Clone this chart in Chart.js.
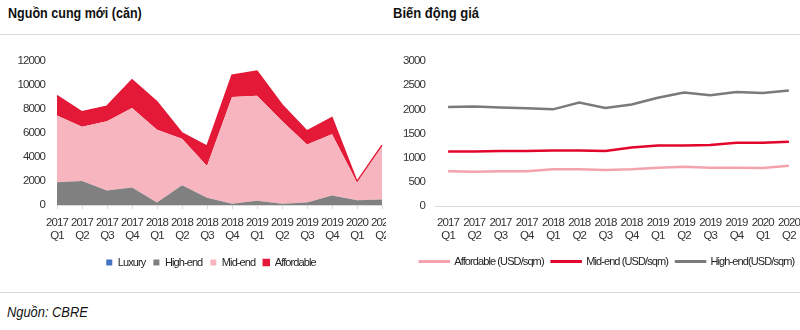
<!DOCTYPE html>
<html><head><meta charset="utf-8">
<script src="https://cdn.jsdelivr.net/npm/chart.js@4/dist/chart.umd.min.js"></script>
<style>
body{margin:0;width:800px;height:330px;overflow:hidden;background:#fff;position:relative;font-family:"Liberation Sans",Arial,sans-serif;color:#111;}
.title{position:absolute;top:4px;font-weight:bold;font-size:15.5px;transform-origin:0 0;white-space:nowrap;}
.hr{position:absolute;left:0;width:800px;height:1px;background:#d9d9d9;}
#leftWrap{position:absolute;left:0;top:36px;width:386px;height:254px;overflow:hidden;}
#rightWrap{position:absolute;left:390px;top:36px;width:410px;height:254px;overflow:hidden;}
.source{position:absolute;left:7px;top:303px;font-style:italic;font-size:15.5px;transform:scaleX(0.83);transform-origin:0 0;white-space:nowrap;}
</style></head>
<body>
<div class="title" style="left:8px;transform:scaleX(0.81)">Nguồn cung mới (căn)</div>
<div class="title" style="left:393px;transform:scaleX(0.84)">Biến động giá</div>
<div class="hr" style="top:34px"></div>
<div id="leftWrap"><canvas id="left" width="400" height="254"></canvas></div>
<div id="rightWrap"><canvas id="right" width="460" height="254"></canvas></div>
<div class="hr" style="top:292px"></div>
<div class="source">Nguồn: CBRE</div>
<script>
const quarters = ['2017 Q1','2017 Q2','2017 Q3','2017 Q4','2018 Q1','2018 Q2','2018 Q3','2018 Q4','2019 Q1','2019 Q2','2019 Q3','2019 Q4','2020 Q1','2020 Q2'];
const supplyLuxury = [0,0,0,0,0,0,0,0,0,0,0,0,0,0];
const supplyHighEnd = [1900, 2000, 1200, 1450, 200, 1650, 600, 100, 350, 100, 200, 800, 400, 450];
const supplyMidEnd = [5550, 4530, 5780, 6630, 6080, 3870, 2650, 8900, 8760, 6910, 4850, 5090, 1480, 4430];
const supplyAffordable = [1660, 1240, 1260, 2350, 2330, 480, 1660, 1820, 2050, 1350, 1120, 1400, 80, 110];
const priceAffordable = [720, 710, 720, 720, 760, 760, 745, 760, 790, 810, 790, 790, 785, 835];
const priceMidEnd = [1130, 1130, 1140, 1140, 1150, 1150, 1140, 1210, 1250, 1250, 1260, 1310, 1310, 1330];
const priceHighEnd = [2050, 2060, 2040, 2020, 2000, 2140, 2030, 2100, 2240, 2350, 2290, 2360, 2340, 2390];
const supplyTickMax = 12000, supplyTickStep = 2000;
const priceTickMax = 3000, priceTickStep = 500;

const labels = quarters.map(q => q.split(' '));
const FONT = '"Liberation Sans",Arial,sans-serif';
const tickFont = {family: FONT, size: 11.5, lineHeight: 1.13};
const legendFont = {family: FONT, size: 11};
const tickColor = '#333';
const plainNumber = v => String(v);

// narrow-looking text: tighten canvas letter spacing
const condense = {
  id: 'condense',
  beforeUpdate(chart) { chart.ctx.letterSpacing = '-0.9px'; },
  beforeDraw(chart) { chart.ctx.letterSpacing = '-0.9px'; }
};
// place the legend at a chosen horizontal centre / vertical nudge
const legendShift = {
  id: 'legendShift',
  afterLayout(chart, args, opts) {
    const l = chart.legend;
    if (!l) return;
    if (opts.center != null) {
      const d = opts.center - (l.left + l.right) / 2;
      l.left += d; l.right += d;
    }
    if (opts.dy) { l.top += opts.dy; l.bottom += opts.dy; }
  }
};

new Chart(document.getElementById('left'), {
  type: 'line',
  plugins: [condense, legendShift],
  data: {
    labels: labels,
    datasets: [
      {label: 'Luxury', data: supplyLuxury, backgroundColor: '#4472c4', borderColor: '#4472c4', borderWidth: 0, fill: 'origin', pointRadius: 0},
      {label: 'High-end', data: supplyHighEnd, backgroundColor: '#808080', borderColor: '#808080', borderWidth: 0, fill: 'origin', pointRadius: 0},
      {label: 'Mid-end', data: supplyMidEnd, backgroundColor: '#f7b6bf', borderColor: '#f7b6bf', borderWidth: 0, fill: '-1', pointRadius: 0},
      {label: 'Affordable', data: supplyAffordable, backgroundColor: '#e31937', borderColor: '#e31937', borderWidth: 1.5, fill: '-1', pointRadius: 0}
    ]
  },
  options: {
    responsive: false, animation: false,
    layout: {padding: {left: 0, right: 18, top: 25, bottom: 12}},
    elements: {line: {tension: 0}},
    plugins: {
      tooltip: {enabled: false},
      legendShift: {center: 211},
      legend: {position: 'bottom', labels: {boxWidth: 6, boxHeight: 6, padding: 8, color: '#222', font: legendFont}}
    },
    scales: {
      x: {offset: false, grid: {display: true, drawOnChartArea: false, tickLength: 4, color: '#d9d9d9'}, border: {color: '#d9d9d9'},
          ticks: {color: tickColor, font: tickFont, maxRotation: 0, autoSkip: false, padding: 7}},
      y: {stacked: true, min: 0, max: supplyTickMax, grid: {display: false, drawTicks: false}, border: {display: false},
          ticks: {stepSize: supplyTickStep, color: tickColor, font: tickFont, padding: 12, callback: plainNumber},
          afterFit: s => { s.width = 57; }}
    }
  }
});

new Chart(document.getElementById('right'), {
  type: 'line',
  plugins: [condense, legendShift],
  data: {
    labels: labels,
    datasets: [
      {label: 'Affordable (USD/sqm)', data: priceAffordable, borderColor: '#f4a3ae', backgroundColor: '#f4a3ae', borderWidth: 2.5, pointRadius: 0, fill: false},
      {label: 'Mid-end (USD/sqm)', data: priceMidEnd, borderColor: '#e2062c', backgroundColor: '#e2062c', borderWidth: 2.5, pointRadius: 0, fill: false},
      {label: 'High-end(USD/sqm)', data: priceHighEnd, borderColor: '#7a7a7a', backgroundColor: '#7a7a7a', borderWidth: 2.5, pointRadius: 0, fill: false}
    ]
  },
  options: {
    responsive: false, animation: false,
    layout: {padding: {left: 0, right: 0, top: 25, bottom: 9}},
    elements: {line: {tension: 0}},
    plugins: {
      tooltip: {enabled: false},
      legendShift: {center: 217, dy: -4},
      legend: {position: 'bottom', labels: {boxWidth: 29, boxHeight: 0.5, padding: 8, color: '#222', font: legendFont}}
    },
    scales: {
      x: {offset: true, grid: {display: false, drawTicks: false}, border: {display: true, color: '#d9d9d9'},
          ticks: {color: tickColor, font: tickFont, maxRotation: 0, autoSkip: false, padding: 10}},
      y: {min: 0, max: priceTickMax, grid: {display: false, drawTicks: false}, border: {display: false},
          ticks: {stepSize: priceTickStep, color: tickColor, font: tickFont, padding: 10, callback: plainNumber},
          afterFit: s => { s.width = 45; }},
      spacer: {position: 'right', display: true, grid: {display: false, drawTicks: false}, border: {display: false},
          ticks: {display: false}, afterFit: s => { s.width = 48; }}
    }
  }
});
</script>
</body></html>
